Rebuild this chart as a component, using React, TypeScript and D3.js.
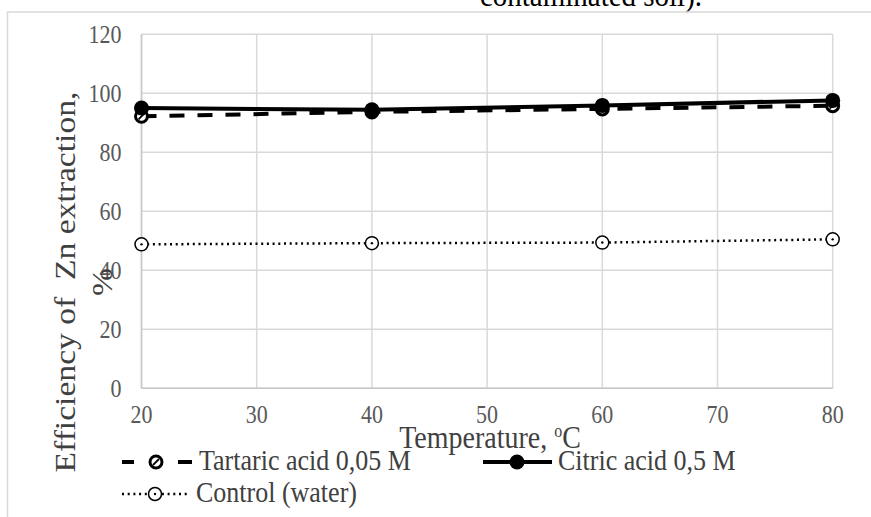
import React from "react";
import * as d3 from "d3";

// values
const temperatures = [20, 40, 60, 80];
const tartaric = [92.2, 93.7, 94.7, 95.8];
const citric = [95.0, 94.4, 95.9, 97.6];
const control = [48.8, 49.2, 49.4, 50.5];
const xTicks = [20, 30, 40, 50, 60, 70, 80];
const yTicks = [0, 20, 40, 60, 80, 100, 120];

const W = 871;
const H = 517;
const FONT = "'Liberation Serif', 'Times New Roman', Times, serif";
const GRID = "#d9d9d9";
const TEXT = "#404040";
const TICK = "#595959";
// the source picture is a little taller than wide, text glyphs look stretched
const STRETCH = 1.12;

type Pt = { t: number; v: number };
const toPts = (vals: number[]): Pt[] => temperatures.map((t, i) => ({ t, v: vals[i] }));

// horizontal text with the vertical stretch of the source
const T: React.FC<{
  x: number;
  y: number;
  size: number;
  anchor?: "start" | "middle" | "end";
  fill?: string;
  dy?: string;
  children: React.ReactNode;
}> = ({ x, y, size, anchor = "start", fill = TEXT, dy, children }) => (
  <text
    transform={`translate(${x},${y}) scale(1,${STRETCH})`}
    dy={dy}
    fontSize={size}
    fill={fill}
    textAnchor={anchor}
    style={{ fontFamily: FONT, whiteSpace: "pre" }}
  >
    {children}
  </text>
);

const TartaricMarker: React.FC<{ x: number; y: number }> = ({ x, y }) => (
  <g transform={`translate(${x},${y})`}>
    <circle r={6} fill="#fff" stroke="#000" strokeWidth={3} />
    <line x1={-3} y1={3} x2={3} y2={-3} stroke="#000" strokeWidth={1.8} />
  </g>
);

const CitricMarker: React.FC<{ x: number; y: number }> = ({ x, y }) => (
  <circle cx={x} cy={y} r={7.5} fill="#000" />
);

const ControlMarker: React.FC<{ x: number; y: number }> = ({ x, y }) => (
  <g transform={`translate(${x},${y})`}>
    <circle r={6.5} fill="#fff" stroke="#000" strokeWidth={1.5} />
    <circle r={1.2} fill="#000" />
  </g>
);

export default function App() {
  const x = d3.scaleLinear().domain([20, 80]).range([141.5, 832.7]);
  const y = d3.scaleLinear().domain([0, 120]).range([388.3, 34.3]);

  const line = d3
    .line<Pt>()
    .x((d) => x(d.t))
    .y((d) => y(d.v));

  const tPts = toPts(tartaric);
  const cPts = toPts(citric);
  const wPts = toPts(control);

  return (
    <svg
      width={W}
      height={H}
      style={{ position: "absolute", left: 0, top: 0, background: "#fff", fontFamily: FONT }}
    >
      {/* cut-off caption above the chart */}
      <T x={591} y={6} size={29} anchor="middle" fill="#000">
        contaminated soil).
      </T>

      {/* chart frame, running off the page right and bottom */}
      <rect x={7.5} y={12} width={W + 20} height={H + 20} fill="none" stroke={GRID} strokeWidth={1.5} />

      {/* gridlines */}
      {yTicks.map((t) => (
        <line key={"gy" + t} x1={x(20)} x2={x(80)} y1={y(t)} y2={y(t)} stroke={GRID} strokeWidth={1.5} />
      ))}
      {xTicks.map((t) => (
        <line key={"gx" + t} x1={x(t)} x2={x(t)} y1={y(0)} y2={y(120)} stroke={GRID} strokeWidth={1.5} />
      ))}
      <line x1={x(20)} x2={x(80)} y1={y(0)} y2={y(0)} stroke="#c8c8c8" strokeWidth={1.5} />
      <line x1={x(20)} x2={x(20)} y1={y(0)} y2={y(120)} stroke="#c8c8c8" strokeWidth={1.5} />

      {/* tick labels */}
      {yTicks.map((t) => (
        <T key={"ty" + t} x={x(20) - 20} y={y(t)} dy="0.34em" size={22} anchor="end" fill={TICK}>
          {t}
        </T>
      ))}
      {xTicks.map((t) => (
        <T key={"tx" + t} x={x(t)} y={423} size={22} anchor="middle" fill={TICK}>
          {t}
        </T>
      ))}

      {/* axis titles */}
      <T x={490} y={448} size={28} anchor="middle">
        Temperature, <tspan fontSize={16} dy={-10}>o</tspan>
        <tspan dy={10}>C</tspan>
      </T>
      <g transform={`translate(75,282) rotate(-90) scale(${STRETCH},1)`}>
        <text x={0} y={0} fontSize={30} fill={TEXT} textAnchor="middle" style={{ fontFamily: FONT, whiteSpace: "pre" }}>
          {"Efficiency of  Zn extraction,"}
        </text>
        <text x={0} y={37} fontSize={30} fill={TEXT} textAnchor="middle" style={{ fontFamily: FONT }}>
          %
        </text>
      </g>

      {/* series */}
      <path d={line(wPts) || ""} fill="none" stroke="#000" strokeWidth={2.5} strokeDasharray="2,3.7" />
      {wPts.map((d, i) => (
        <ControlMarker key={"w" + i} x={x(d.t)} y={y(d.v)} />
      ))}
      <path d={line(tPts) || ""} fill="none" stroke="#000" strokeWidth={4} strokeDasharray="15,13" />
      {tPts.map((d, i) => (
        <TartaricMarker key={"t" + i} x={x(d.t)} y={y(d.v)} />
      ))}
      <path d={line(cPts) || ""} fill="none" stroke="#000" strokeWidth={4} />
      {cPts.map((d, i) => (
        <CitricMarker key={"c" + i} x={x(d.t)} y={y(d.v)} />
      ))}

      {/* legend */}
      <g>
        <line x1={122} x2={192} y1={462} y2={462} stroke="#000" strokeWidth={4} strokeDasharray="12,44,14" />
        <TartaricMarker x={156} y={462} />
        <T x={199} y={470} size={26}>
          Tartaric acid 0,05 M
        </T>

        <line x1={483} x2={552} y1={462} y2={462} stroke="#000" strokeWidth={4} />
        <CitricMarker x={517} y={462} />
        <T x={558} y={470} size={26}>
          Citric acid 0,5 M
        </T>

        <line x1={122} x2={188} y1={494} y2={494} stroke="#000" strokeWidth={2.5} strokeDasharray="2,3.7" />
        <ControlMarker x={155} y={494} />
        <T x={196} y={502} size={26}>
          Control (water)
        </T>
      </g>
    </svg>
  );
}
